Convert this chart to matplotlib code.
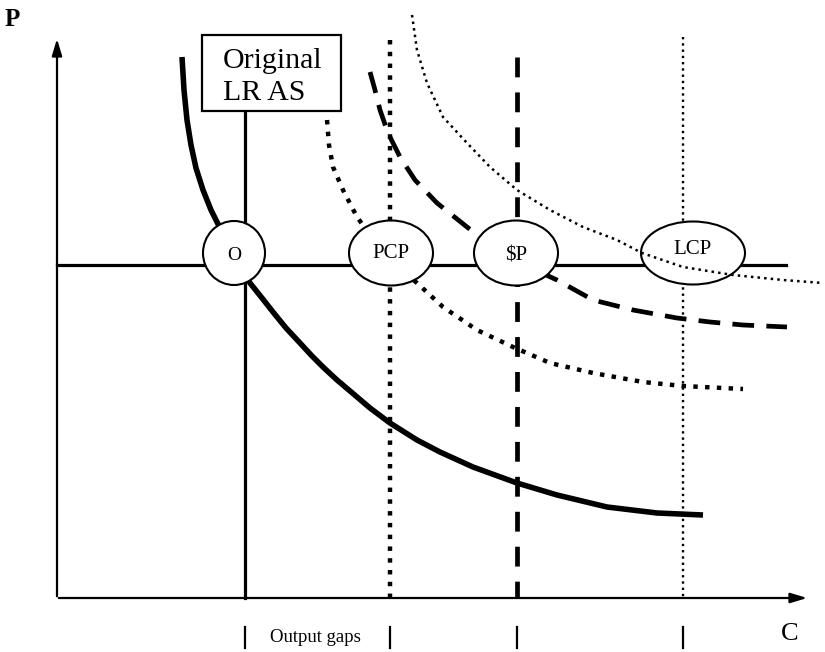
import matplotlib.pyplot as plt
from matplotlib.patches import Ellipse, Rectangle

# diagram, in pixel coordinates (y grows downward)
solid_x = [182, 184, 187, 191, 196, 203, 211, 220, 232, 250, 262, 273, 286, 300, 312, 323, 337, 350, 370, 390,
           417, 440, 473, 517, 557, 607, 657, 703]
solid_y = [57, 90, 120, 145, 168, 190, 210, 228, 250, 283, 298, 312, 328, 343, 356, 367, 380, 391, 408, 423,
           440, 452, 467, 483, 495, 507, 513, 515]

pcp_x = [327, 329, 333, 343, 357, 365, 380, 395, 417, 443, 477, 513, 550, 593, 643, 683, 743]
pcp_y = [120, 145, 167, 190, 217, 228, 245, 265, 283, 307, 330, 347, 363, 373, 382, 386, 389]

dollar_x = [370, 375, 380, 388, 400, 415, 437, 467, 490, 520, 557, 593, 633, 677, 710, 743, 787]
dollar_y = [72, 90, 110, 133, 157, 180, 203, 227, 245, 263, 280, 300, 310, 318, 322, 325, 327]

lcp_x = [412, 417, 427, 443, 467, 490, 517, 550, 583, 617, 642, 683, 733, 783, 823]
lcp_y = [15, 50, 83, 117, 143, 167, 190, 210, 227, 240, 253, 267, 275, 280, 283]

vlines_x = [245, 390, 517, 683]
vlines_top = [111, 40, 57, 37]
vline_styles = ['-', ':', (0, (4.2, 3.2)), ':']
vline_widths = [2.3, 3.2, 3.4, 1.7]

labels = ['O', 'PCP', '$P', 'LCP']
label_x = [234, 391, 516, 693]
label_w = [62, 84, 84, 104]
label_h = [64, 65, 65, 63]
label_text_y = [256, 254, 256, 249]
label_size = [14, 15, 15, 15]

fig = plt.figure(figsize=(8.25, 6.52), dpi=100)
ax = fig.add_axes([0, 0, 1, 1])
ax.set_xlim(0, 825)
ax.set_ylim(652, 0)
ax.axis('off')

serif = 'Liberation Serif'

# axes with arrows
ax.annotate('', xy=(57, 36), xytext=(57, 599),
            arrowprops=dict(arrowstyle='-|>,head_width=0.3,head_length=1.0', lw=1.6, color='black'))
ax.annotate('', xy=(810, 598), xytext=(56, 598),
            arrowprops=dict(arrowstyle='-|>,head_width=0.3,head_length=1.0', lw=1.6, color='black'))
ax.text(12, 19, 'P', fontsize=18, fontweight='bold', family=serif, va='center', ha='center')
ax.text(790, 634, 'C', fontsize=19, family=serif, va='center', ha='center')

# horizontal price line
ax.plot([57, 786], [265, 265], color='black', lw=2.3, zorder=2)

# vertical lines
for x, top, ls, lw in zip(vlines_x, vlines_top, vline_styles, vline_widths):
    ax.plot([x, x], [top, 598], color='black', ls=ls, lw=lw, zorder=2)

# curves
ax.plot(solid_x, solid_y, color='black', lw=4.0, zorder=2, solid_capstyle='butt', solid_joinstyle='round')
ax.plot(pcp_x, pcp_y, color='black', lw=3.2, ls=':', zorder=2)
ax.plot(dollar_x, dollar_y, color='black', lw=3.4, ls=(0, (4.6, 2.6)), zorder=2)
ax.plot(lcp_x, lcp_y, color='black', lw=1.8, ls=':', zorder=5)

# ellipses with labels
for name, x, w, h, ty, fs in zip(labels, label_x, label_w, label_h, label_text_y, label_size):
    ax.add_patch(Ellipse((x, 253), w, h, facecolor='white', edgecolor='black', lw=1.5, zorder=4))
    ax.text(x, ty, name, fontsize=fs, family=serif, ha='center', va='center', zorder=6)

# box
ax.add_patch(Rectangle((202, 35), 139, 76, facecolor='white', edgecolor='black', lw=1.6, zorder=4))
ax.text(223, 68, 'Original', fontsize=21.5, family=serif, ha='left', va='baseline', zorder=6)
ax.text(223, 100, 'LR AS', fontsize=21.5, family=serif, ha='left', va='baseline', zorder=6)

# bottom markers
for x in vlines_x:
    ax.plot([x, x], [627, 648], color='black', lw=1.6)
ax.text(315, 637, 'Output gaps', fontsize=13.5, family=serif, ha='center', va='center')

fig.savefig('out.png', dpi=100)
